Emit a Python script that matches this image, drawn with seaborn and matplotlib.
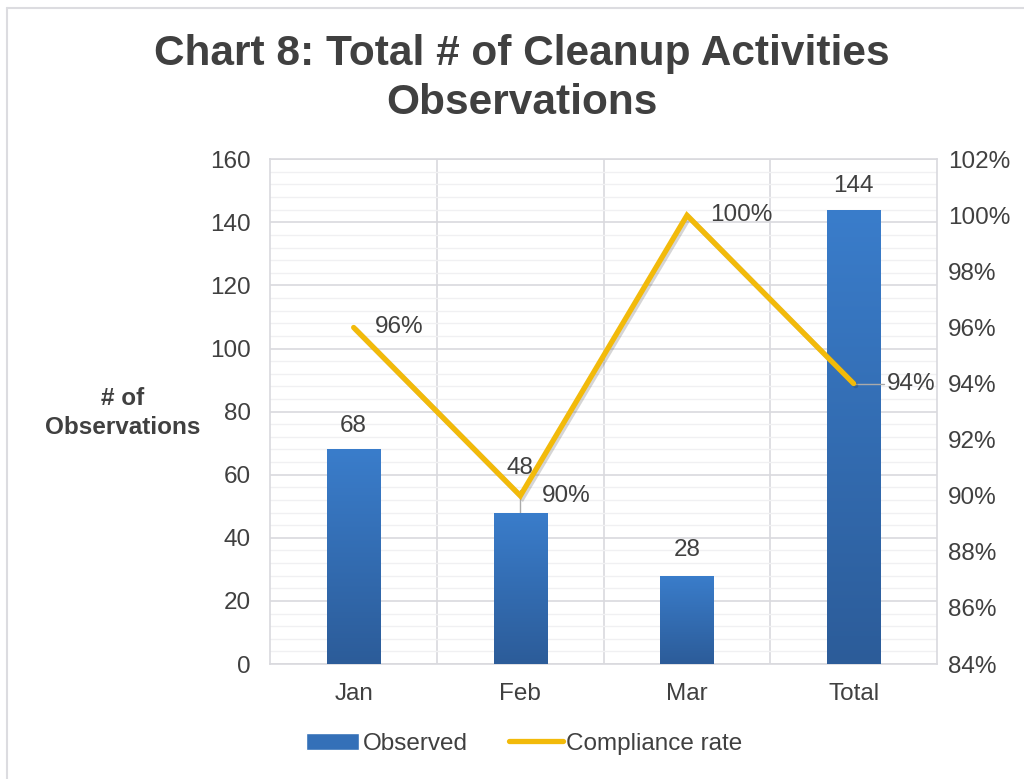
import matplotlib
matplotlib.use("Agg")
import matplotlib.pyplot as plt
import matplotlib.patheffects as pe
from matplotlib.lines import Line2D
from matplotlib.colors import LinearSegmentedColormap
from matplotlib.patches import Patch
import seaborn as sns
import pandas as pd
import numpy as np

# data
months = ["Jan", "Feb", "Mar", "Total"]
observed = [68, 48, 28, 144]
compliance = [96, 90, 100, 94]

df = pd.DataFrame({"month": months, "observed": observed, "compliance": compliance})

sns.set_theme(style="white")
plt.rcParams["font.family"] = ["Liberation Sans", "DejaVu Sans"]
txt = "#404040"
fs = 17.5

fig = plt.figure(figsize=(10.24, 7.79), dpi=100)
ax = fig.add_axes([0.264, 0.1476, 0.651, 0.648])

sns.barplot(data=df, x="month", y="observed", width=0.32, color="#3470B8", ax=ax, zorder=3)

# gradient fill for the bars
cmap = LinearSegmentedColormap.from_list("bar", ["#2C5C99", "#3A7DCB"])
grad = np.linspace(0, 1, 256).reshape(-1, 1)
for p in ax.patches:
    x0, y0 = p.get_x(), p.get_y()
    w, h = p.get_width(), p.get_height()
    p.set_facecolor("none")
    p.set_edgecolor("none")
    im = ax.imshow(grad, cmap=cmap, aspect="auto", origin="lower",
                   extent=[x0, x0 + w, y0, y0 + h], zorder=3)
    im.set_clip_path(p)

ax.set_xlim(-0.5, 3.5)
ax.set_ylim(0, 160)
ax.set_yticks(range(0, 161, 20))
ax.set_yticks(range(0, 161, 4), minor=True)
ax.yaxis.grid(True, which="major", color="#D9D9DE", lw=1.2, zorder=0)
ax.yaxis.grid(True, which="minor", color="#F0F0F2", lw=1.0, zorder=0)
for xv in [0.5, 1.5, 2.5]:
    ax.axvline(xv, color="#D9D9DE", lw=1.2, zorder=0)
for s in ax.spines.values():
    s.set_color("#D9D9DE")
    s.set_linewidth(1.2)
ax.tick_params(axis="both", which="both", length=0, labelsize=fs, colors=txt)
ax.tick_params(axis="y", pad=14)
ax.tick_params(axis="x", pad=14)
ax.set_xlabel("")
ax.set_ylabel("# of\nObservations", fontsize=fs, fontweight="bold", color=txt,
              rotation=0, ha="center", va="center", linespacing=1.3)
ax.yaxis.set_label_coords(-0.222, 0.497)

label_y = [75.5, 62, 36, 151.5]
for i, v in enumerate(observed):
    ax.text(i, label_y[i], str(v), ha="center", va="center", fontsize=fs, color=txt, zorder=5)

# leader line for the Feb label
ax.plot([1, 1], [48, 55], color="#AAAAAA", lw=1, zorder=2)

# secondary axis for the compliance rate
ax2 = ax.twinx()
sns.lineplot(data=df, x="month", y="compliance", color="#F2BA0A", lw=3.8, ax=ax2,
             solid_capstyle="round", solid_joinstyle="miter", zorder=4,
             path_effects=[pe.SimpleLineShadow(offset=(1.5, -1.5), alpha=0.18), pe.Normal()])
ax2.set_ylim(84, 102)
ax2.set_yticks(range(84, 103, 2))
ax2.set_yticklabels([f"{t}%" for t in range(84, 103, 2)])
ax2.tick_params(axis="y", length=0, labelsize=fs, colors=txt, pad=8)
ax2.set_ylabel("")
ax2.set_xlabel("")
for s in ax2.spines.values():
    s.set_visible(False)

ax2.plot([3, 3.18], [94, 94], color="#AAAAAA", lw=1, zorder=3)

offs = [0.13, 0.13, 0.14, 0.2]
for i, v in enumerate(compliance):
    ax2.text(i + offs[i], v, f"{v}%", ha="left", va="center",
             fontsize=fs, color=txt, zorder=5)

fig.text(0.51, 0.899, "Chart 8: Total # of Cleanup Activities\nObservations", ha="center",
         va="center", fontsize=30.5, fontweight="bold", color=txt, linespacing=1.3)

handles = [Patch(facecolor="#3470B8"),
           Line2D([0], [0], color="#F2BA0A", lw=3.8, solid_capstyle="round")]
fig.legend(handles, ["Observed", "Compliance rate"], loc="center", bbox_to_anchor=(0.512, 0.045),
           ncol=2, frameon=False, fontsize=fs, labelcolor=txt, handlelength=2.2,
           handletextpad=0.15, columnspacing=1.7)

# outer frame lines
fig.add_artist(Line2D([0.007, 1.0], [0.99, 0.99], color="#DCDCE0", lw=1.5, transform=fig.transFigure))
fig.add_artist(Line2D([0.007, 0.007], [0.0, 0.99], color="#DCDCE0", lw=1.5, transform=fig.transFigure))

fig.savefig("out.png", dpi=100)
